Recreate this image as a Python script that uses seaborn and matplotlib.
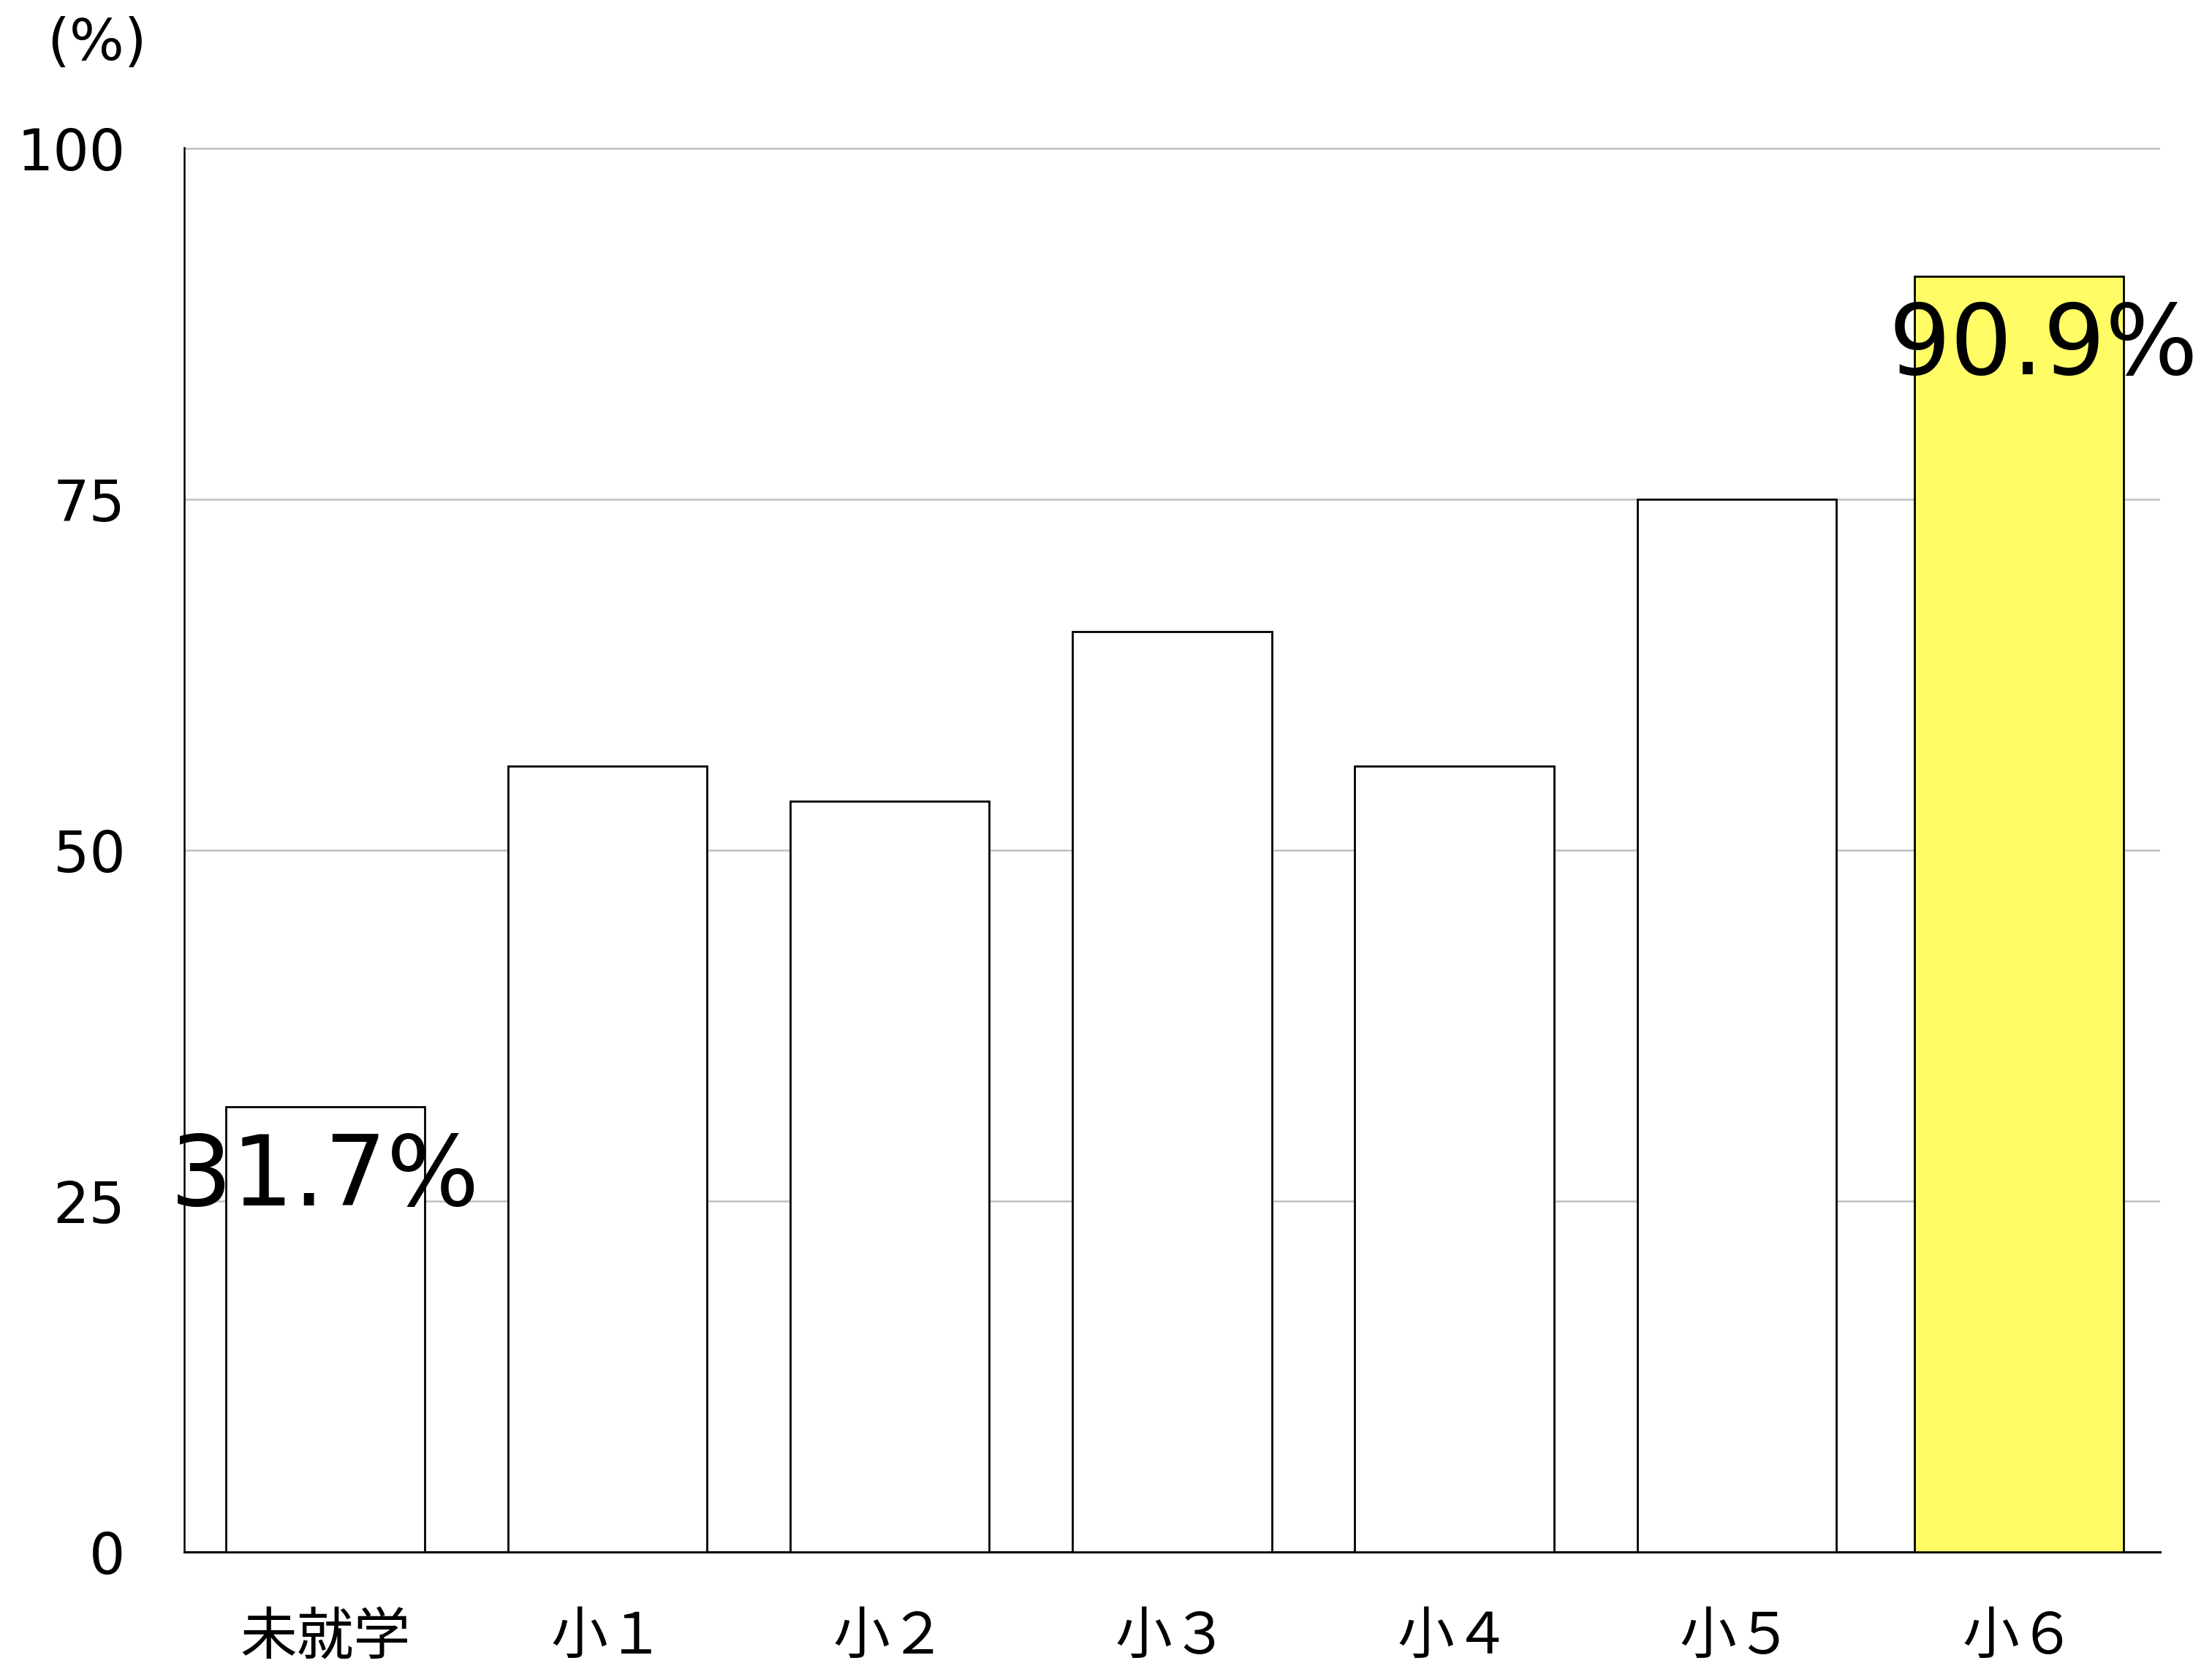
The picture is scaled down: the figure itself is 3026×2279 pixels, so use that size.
import matplotlib
matplotlib.use("Agg")
import matplotlib.pyplot as plt
import seaborn as sns
import pandas as pd

categories = ["未就学", "小１", "小２", "小３", "小４", "小５", "小６"]
values = [31.7, 56.0, 53.5, 65.6, 56.0, 75.0, 90.9]
bar_colors = ["#FFFFFF", "#FFFFFF", "#FFFFFF", "#FFFFFF", "#FFFFFF", "#FFFFFF", "#FFFC66"]
labeled = {0: "31.7%", 6: "90.9%"}
yticks = [0, 25, 50, 75, 100]

sns.set_theme(style="white")
plt.rcParams['font.family'] = ['DejaVu Sans', 'Noto Sans CJK JP']
plt.rcParams['text.color'] = 'black'

df = pd.DataFrame({"cat": categories, "val": values})

fig = plt.figure(figsize=(30.26, 22.79), dpi=100)
ax = fig.add_axes([0.0833, 0.0685, 0.9765 - 0.0833, 0.9114 - 0.0685])

sns.barplot(data=df, x="cat", y="val", hue="cat", order=categories,
            hue_order=categories, palette=bar_colors, legend=False,
            width=0.705, edgecolor="black", linewidth=2.0, saturation=1,
            ax=ax, zorder=3)

# last bar slightly wider as in reference
p = ax.patches[-1]
cx = p.get_x() + p.get_width() / 2
p.set_width(0.74)
p.set_x(cx - 0.37)

ax.set_xlim(-0.5, 6.5)
ax.set_ylim(0, 100.08)
ax.set_yticks(yticks)
ax.set_yticklabels([str(t) for t in yticks], fontsize=56, family=['DejaVu Sans'], color='black')
ax.set_xticks(range(len(categories)))
ax.set_xticklabels(categories, fontsize=56, family=['Noto Sans CJK JP', 'DejaVu Sans'], color='black')
ax.tick_params(axis='y', length=0, pad=58, labelcolor='black')
ax.tick_params(axis='x', length=0, pad=56, labelcolor='black')
ax.set_xlabel("")
ax.set_ylabel("")

ax.yaxis.grid(True, color="#BFBFBF", linewidth=1.8, zorder=0)
ax.xaxis.grid(False)
ax.set_axisbelow(True)

for s in ["top", "right"]:
    ax.spines[s].set_visible(False)
ax.spines["left"].set_color("black")
ax.spines["left"].set_linewidth(1.8)
ax.spines["bottom"].set_color("black")
ax.spines["bottom"].set_linewidth(2.2)

for i, txt in labeled.items():
    dx = 24 if i == len(categories) - 1 else 0
    ax.annotate(txt, xy=(i, values[i]), xytext=(dx, -70), textcoords='offset points',
                ha='center', va='center', fontsize=96, color='black', zorder=5,
                annotation_clip=False, family=['DejaVu Sans'])

fig.text(133 / 3026, 1 - 60 / 2279, "(%)", ha='center', va='center', fontsize=57,
         family=['DejaVu Sans'], color='black')

fig.savefig("out.png", dpi=100, facecolor="white")
